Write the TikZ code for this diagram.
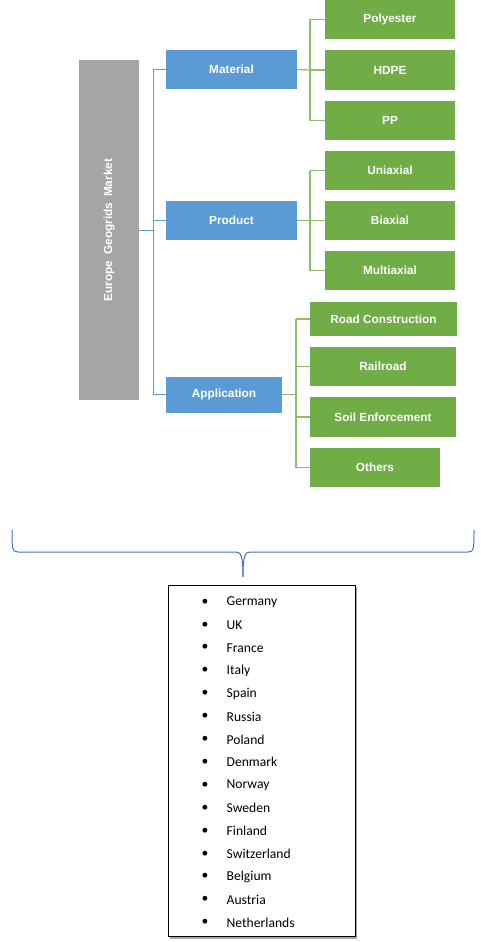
\documentclass[tikz,border=0pt]{standalone}
\usepackage{fontspec}
\setmainfont{Liberation Sans}
\newfontfamily\listfont{Carlito}
\definecolor{cgray}{HTML}{A5A5A5}
\definecolor{cblue}{HTML}{5B9BD5}
\definecolor{cgreen}{HTML}{70AD47}
\definecolor{cline}{HTML}{5B9BD5}
\definecolor{cgline}{HTML}{8CBF6A}
\definecolor{cbrace}{HTML}{4472C4}
\begin{document}
\begin{tikzpicture}[x=1pt,y=-1pt,
  boxbase/.style={inner sep=0pt, text=white, font=\fontsize{11.8}{13}\selectfont\bfseries, align=center},
  bluebox/.style={boxbase, fill=cblue, minimum height=39pt},
  greenbox/.style={boxbase, fill=cgreen, minimum height=39pt},
  graybox/.style={boxbase, fill=cgray},
  bconn/.style={draw=cline, line width=1pt},
  gconn/.style={draw=cgline, line width=1.2pt},
  itemtext/.style={anchor=west, inner sep=0pt, font=\listfont\fontsize{13.6}{15}\selectfont},
  bul/.style={inner sep=0pt, font=\listfont\fontsize{13.6}{15}\selectfont}
]
\useasboundingbox (0,0) rectangle (481,942);
% main gray box
\node[graybox, minimum width=60pt, minimum height=340pt] (root) at (109,230) {};
\node[boxbase, rotate=90] (roottxt) at (root.center) {Europe\hspace{0.5em}Geogrids\hspace{0.5em}Market};
% blue level
\node[bluebox, minimum width=131pt] (mat) at (231.5,69.5) {Material};
\node[bluebox, minimum width=131pt] (prod) at (231.5,220.5) {Product};
\node[bluebox, minimum width=116pt, minimum height=36pt] (app) at (224,394.5) {Application};
% green children
\node[greenbox, minimum width=130pt] (poly) at (390,19.5) {Polyester};
\node[greenbox, minimum width=130pt] (hdpe) at (390,70) {HDPE};
\node[greenbox, minimum width=130pt] (pp) at (390,120.5) {PP};
\node[greenbox, minimum width=130pt] (uni) at (390,170.5) {Uniaxial};
\node[greenbox, minimum width=130pt] (bi) at (390,220.5) {Biaxial};
\node[greenbox, minimum width=130pt] (multi) at (390,270.5) {Multiaxial};
\node[greenbox, minimum width=147pt, minimum height=34pt] (road) at (383.5,319) {Road Construction};
\node[greenbox, minimum width=146pt] (rail) at (383,366.5) {Railroad};
\node[greenbox, minimum width=146pt, minimum height=40pt] (soil) at (383,417) {Soil Enforcement};
\node[greenbox, minimum width=130pt] (oth) at (375,467.5) {Others};
% level-1 connectors
\coordinate (j0) at (153,230);
\coordinate (jt) at (153,69.5);
\coordinate (jb) at (153,394.5);
\draw[bconn] (root.east |- j0) -- (j0);
\draw[bconn] (jt) -- (jb);
\draw[bconn] (jt) -- (mat.west);
\draw[bconn] (153,220.5) -- (prod.west);
\draw[bconn] (jb) -- (app.west);
% material children
\coordinate (m1) at (310,70);
\draw[gconn] (mat.east) -- (m1);
\draw[gconn] (310,19.5) -- (310,120.5);
\draw[gconn] (310,19.5) -- (poly.west);
\draw[gconn] (m1) -- (hdpe.west);
\draw[gconn] (310,120.5) -- (pp.west);
% product children
\coordinate (p1) at (310,220.5);
\draw[gconn] (prod.east) -- (p1);
\draw[gconn] (310,170.5) -- (310,270.5);
\draw[gconn] (310,170.5) -- (uni.west);
\draw[gconn] (p1) -- (bi.west);
\draw[gconn] (310,270.5) -- (multi.west);
% application children
\coordinate (a1) at (296,394.5);
\draw[gconn] (app.east) -- (a1);
\draw[gconn] (296,319) -- (296,467.5);
\draw[gconn] (296,319) -- (road.west);
\draw[gconn] (296,366.5) -- (rail.west);
\draw[gconn] (296,417) -- (soil.west);
\draw[gconn] (296,467.5) -- (oth.west);
% brace
\coordinate (tip) at (243,577);
\draw[cbrace, line width=1pt]
  (12,530) .. controls (12,548) and (12,552) .. (18,552) -- (236,552)
  .. controls (241,552) and (243,556) .. (tip);
\draw[cbrace, line width=1pt]
  (474,530) .. controls (474,548) and (474,552) .. (468,552) -- (250,552)
  .. controls (245,552) and (243,556) .. (tip);
% list box
\fill[gray!70] (170,587) rectangle (356.5,938.5);
\node[draw=black, fill=white, line width=0.8pt, minimum width=187pt, minimum height=351pt, inner sep=0pt] (list) at (261.5,761) {};
\foreach \i/\t in {0/Germany,1/UK,2/France,3/Italy,4/Spain,5/Russia,6/Poland,7/Denmark,8/Norway,9/Sweden,10/Finland,11/Switzerland,12/Belgium,13/Austria,14/Netherlands}{
  \node[bul] (b\i) at (205,602+\i*22.9) {\textbullet};
  \node[itemtext] (c\i) at (226.5,602+\i*22.9) {\t};
}
\end{tikzpicture}
\end{document}
